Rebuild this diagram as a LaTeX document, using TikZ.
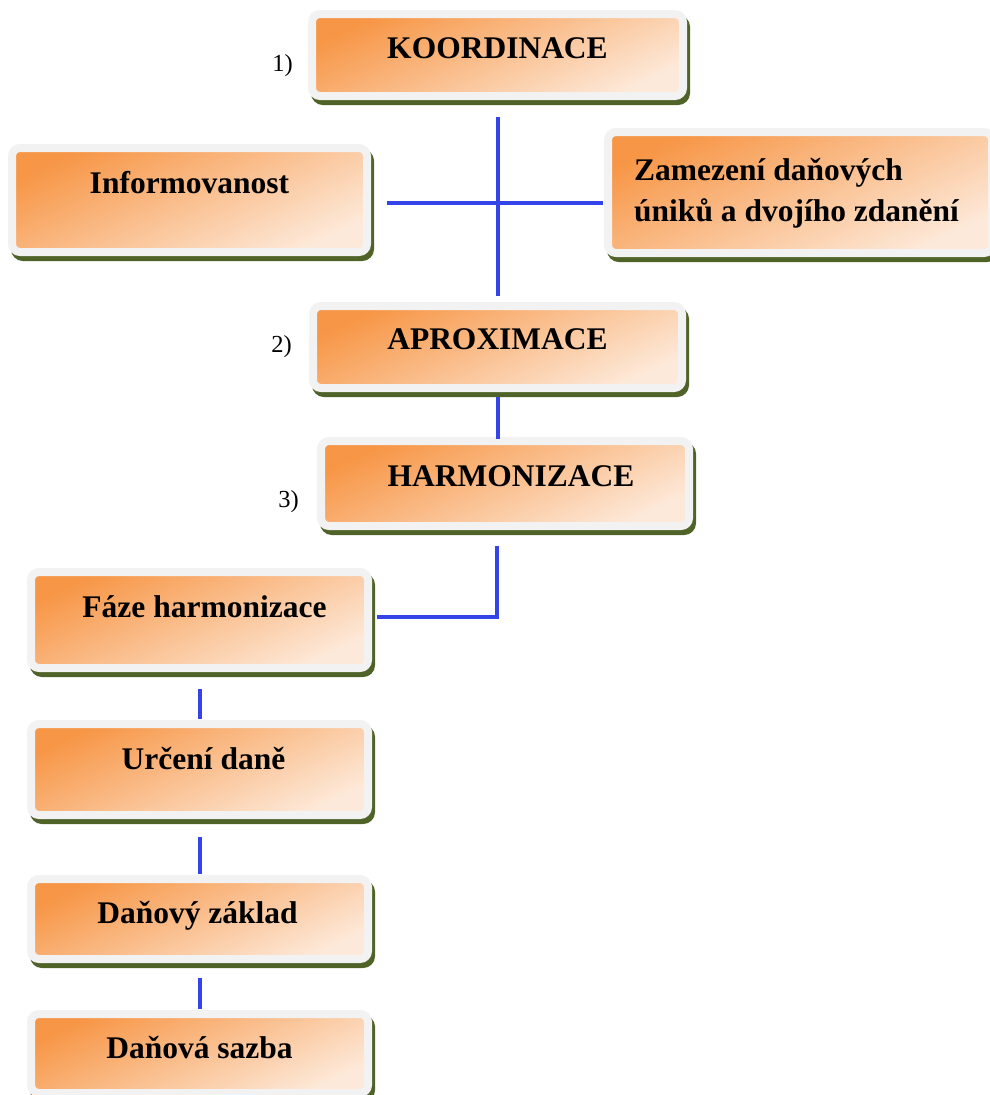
\documentclass[tikz,border=0pt]{standalone}
\usepackage{fontspec}
\setmainfont{Liberation Serif}
\usetikzlibrary{shadows,calc}

\definecolor{boxorange}{HTML}{F79646}
\definecolor{boxpeach}{HTML}{FDE9D9}
\definecolor{boxrim}{HTML}{F2F2F2}
\definecolor{boxshadow}{HTML}{4F6228}
\definecolor{linkblue}{RGB}{52,68,232}

\tikzset{
  box/.style={
    draw=boxrim, line width=8pt, rounded corners=8pt, inner sep=0pt,
    top color=boxorange, bottom color=boxpeach, shading angle=25,
    drop shadow={shadow xshift=3pt, shadow yshift=-5pt, fill=boxshadow,
                 draw=boxshadow, line width=8pt, opacity=1}},
  boxtext/.style={font=\bfseries\fontsize{31.5}{41}\selectfont, inner sep=0pt,
    text height=20.85pt, text depth=0pt},
  longtext/.style={font=\bfseries\fontsize{31.5}{41}\selectfont, inner sep=0pt, align=left},
  num/.style={font=\fontsize{24.5}{28}\selectfont, inner sep=0pt},
  link/.style={draw=linkblue, line width=4pt},
}

\begin{document}
\begin{tikzpicture}[x=1pt, y=-1pt]
  \useasboundingbox (0,0) rectangle (990,1095);
  \clip (0,0) rectangle (990,1095);

  % boxes
  \node[box, minimum width=371pt, minimum height=82pt]  (k) at (497.5,55)    {};
  \node[box, minimum width=355pt, minimum height=104pt] (i) at (189.5,200)   {};
  \node[box, minimum width=384pt, minimum height=121pt] (z) at (800,192.5)   {};
  \node[box, minimum width=369pt, minimum height=82pt]  (a) at (497.5,347)   {};
  \node[box, minimum width=368pt, minimum height=85pt]  (h) at (505,483.5)   {};
  \node[box, minimum width=337pt, minimum height=96pt]  (f) at (199.5,620)   {};
  \node[box, minimum width=337pt, minimum height=91pt]  (u) at (199.5,769.5) {};
  \node[box, minimum width=337pt, minimum height=80pt]  (d) at (199.5,919)   {};
  \node[box, minimum width=337pt, minimum height=79pt]  (s) at (199.5,1053.5){};

  % box captions
  \node[boxtext] (kt) at ([yshift=6.5pt]k.center) {KOORDINACE};
  \node[boxtext] (it) at ([yshift=16.5pt]i.center) {Informovanost};
  \node[longtext, anchor=west] (zt) at ([shift={(30pt,-1pt)}]z.west)
    {Zamezení daňových\\úniků a dvojího zdanění};
  \node[boxtext] (at) at ([yshift=7.5pt]a.center) {APROXIMACE};
  \node[boxtext] (ht) at ([shift={(6pt,7.5pt)}]h.center) {HARMONIZACE};
  \node[boxtext] (ft) at ([shift={(5pt,13pt)}]f.center) {Fáze harmonizace};
  \node[boxtext] (ut) at ([shift={(4pt,10.5pt)}]u.center) {Určení daně};
  \node[boxtext] (dt) at ([shift={(-2pt,5.7pt)}]d.center) {Daňový základ};
  \node[boxtext] (st) at ([yshift=5.5pt]s.center) {Daňová sazba};

  % step numbers
  \node[num, anchor=base] (n1) at (282.5,71)  {1)};
  \node[num, anchor=base] (n2) at (281.7,352) {2)};
  \node[num, anchor=base] (n3) at (288.5,507) {3)};

  % connectors
  \draw[link] ($(k.south)+(0,17)$) -- ($(a.north)+(0,-6)$);
  \draw[link] ($(i.east)+(16,3)$) -- ($(z.west)+(-1,10.5)$);
  \draw[link] ($(a.south)+(0,5)$) -- ($(a.south |- h.north)+(0,2)$);
  \draw[link] ($(h.south)+(-8,16)$) |- ($(f.east)+(5,-3)$);
  \draw[link] ($(f.south)+(0,17)$) -- ($(u.north)+(0,-1)$);
  \draw[link] ($(u.south)+(0,18)$) -- ($(d.north)+(0,-1)$);
  \draw[link] ($(d.south)+(0,15)$) -- ($(s.north)+(0,-1)$);
\end{tikzpicture}
\end{document}
